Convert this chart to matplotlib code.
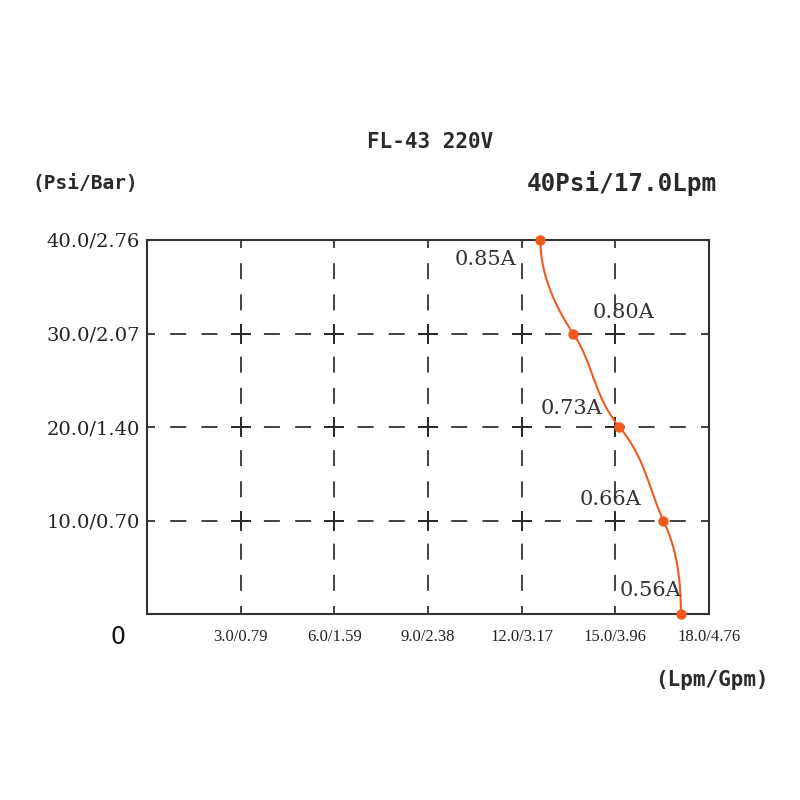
import numpy as np
import matplotlib
matplotlib.use("Agg")
import matplotlib.pyplot as plt

plt.rcParams["lines.scale_dashes"] = False

# Data
flow_lpm = [12.6, 13.65, 15.13, 16.54, 17.1]
pressure_psi = [40, 30, 20, 10, 0]
current_labels = ["0.85A", "0.80A", "0.73A", "0.66A", "0.56A"]
label_pos_x = [10.83, 15.26, 13.59, 14.84, 16.12]
label_pos_y = [37.9, 32.2, 22.0, 12.2, 2.5]

x_ticks = [3, 6, 9, 12, 15, 18]
x_tick_labels = ["3.0/0.79", "6.0/1.59", "9.0/2.38", "12.0/3.17", "15.0/3.96", "18.0/4.76"]
y_ticks = [10, 20, 30, 40]
y_tick_labels = ["10.0/0.70", "20.0/1.40", "30.0/2.07", "40.0/2.76"]

title = "FL-43 220V"
subtitle = "40Psi/17.0Lpm"

orange = "#F05A1E"
dark = "#2a2a2a"

FIG_PX = 800
ax_rect = [0.18375, 0.2325, 0.7025, 0.4675]
fig = plt.figure(figsize=(8, 8), dpi=100)
ax = fig.add_axes(ax_rect)
ax.set_xlim(0, 18)
ax.set_ylim(0, 40)

# dashed grid: 3 dashes per cell, one centred on each intersection
pt_per_px = 72 / 100
dash_pt = 16 * pt_per_px
hper = FIG_PX * ax_rect[2] / 18 * 1.0 * pt_per_px        # 1 lpm
vper = FIG_PX * ax_rect[3] / 40 * (10 / 3) * pt_per_px   # 10/3 psi
hstyle = (dash_pt / 2, (dash_pt, hper - dash_pt))
vstyle = (dash_pt / 2, (dash_pt, vper - dash_pt))
for gx in x_ticks[:-1]:
    ax.plot([gx, gx], [40, 0], color=dark, lw=1.25, linestyle=vstyle, zorder=1)
for gy in y_ticks[:-1]:
    ax.plot([0, 18], [gy, gy], color=dark, lw=1.25, linestyle=hstyle, zorder=1)
# crosses at intersections
gxs, gys = np.meshgrid(x_ticks[:-1], y_ticks[:-1])
ax.plot(gxs.ravel(), gys.ravel(), linestyle="none", marker="+", markersize=14.5,
        markeredgewidth=1.4, color=dark, zorder=2)

# smooth curve: piecewise cubic Hermite of flow vs pressure (drawing style)
ys = np.array(pressure_psi, dtype=float)
xs = np.array(flow_lpm, dtype=float)
tang = np.array([0.0, 0.2, 0.25, 0.14, 0.0])  # d(flow)/d(-psi) at nodes
cx, cy = [], []
for i in range(len(ys) - 1):
    t = np.linspace(0, 1, 80)
    L = ys[i] - ys[i + 1]
    h00 = 2 * t**3 - 3 * t**2 + 1
    h10 = t**3 - 2 * t**2 + t
    h01 = -2 * t**3 + 3 * t**2
    h11 = t**3 - t**2
    cx.extend(h00 * xs[i] + h10 * L * tang[i] + h01 * xs[i + 1] + h11 * L * tang[i + 1])
    cy.extend(ys[i] - L * t)
ax.plot(cx, cy, color=orange, lw=1.5, zorder=3, clip_on=False)
ax.plot(flow_lpm, pressure_psi, linestyle="none", marker="o", markersize=6.5,
        color=orange, zorder=4, clip_on=False)

for lab, lx, ly in zip(current_labels, label_pos_x, label_pos_y):
    ax.text(lx, ly, lab, ha="center", va="center", fontsize=15,
            family="DejaVu Serif", color="#333333", zorder=5)

ax.set_xticks(x_ticks)
ax.set_xticklabels(x_tick_labels, family="Liberation Serif", fontsize=12, color="#222222")
ax.set_yticks(y_ticks)
ax.set_yticklabels(y_tick_labels, family="DejaVu Serif", fontsize=14, color="#222222")
ax.tick_params(axis="x", direction="in", length=0, pad=11)
ax.tick_params(axis="y", direction="in", length=0, pad=5)
for s in ax.spines.values():
    s.set_color("#333333")
    s.set_linewidth(1.5)

mono = "DejaVu Sans Mono"
fig.text(118 / 800, 1 - 637 / 800, "0", ha="center", va="center", fontsize=17, color="#111111")
fig.text(85 / 800, 1 - 184 / 800, "(Psi/Bar)", ha="center", va="center", fontsize=14,
         family=mono, weight="bold", color="#2a2a2a")
fig.text(430 / 800, 1 - 142 / 800, title, ha="center", va="center", fontsize=15,
         family=mono, weight="bold", color="#2a2a2a")
fig.text(622 / 800, 1 - 184 / 800, subtitle, ha="center", va="center", fontsize=17.5,
         family=mono, weight="bold", color="#2a2a2a")
fig.text(712 / 800, 1 - 680 / 800, "(Lpm/Gpm)", ha="center", va="center", fontsize=15,
         family=mono, weight="bold", color="#2a2a2a")

fig.savefig("out.png", dpi=100)
